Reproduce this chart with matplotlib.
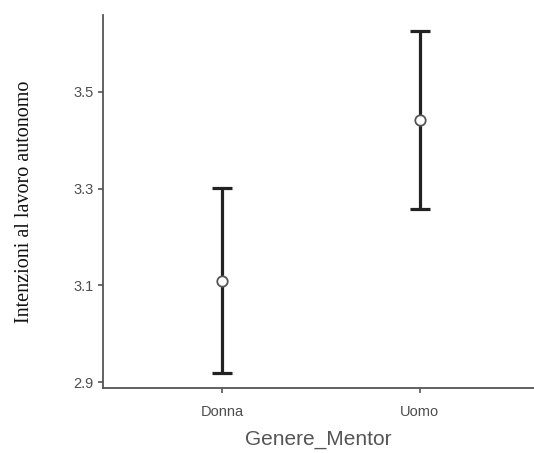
import matplotlib as mpl
import matplotlib.pyplot as plt

mpl.rcParams.update({
    "font.family": "Liberation Sans",
    "axes.spines.top": False,
    "axes.spines.right": False,
})

categories = ["Donna", "Uomo"]
means = [3.110, 3.442]
lower = [2.919, 3.257]
upper = [3.302, 3.626]
yticks = [2.9, 3.1, 3.3, 3.5]

fig = plt.figure(figsize=(5.34, 4.53), dpi=100)
ax = fig.add_axes([0.193, 0.1435, 0.807, 0.8235])

xs = list(range(len(categories)))
yerr = [[m - l for m, l in zip(means, lower)], [u - m for m, u in zip(means, upper)]]
ax.errorbar(xs, means, yerr=yerr, fmt="none", ecolor="#222222", elinewidth=2.3,
            capsize=7.5, capthick=2.3, zorder=2)
ax.plot(xs, means, "o", markersize=7.5, markerfacecolor="white",
        markeredgecolor="#555555", markeredgewidth=1.3, zorder=3)

ax.set_xlim(-0.6, 1.576)
ax.set_ylim(2.888, 3.659)
ax.set_xticks(xs)
ax.set_xticklabels(categories)
ax.set_yticks(yticks)
ax.set_yticklabels([f"{t:.1f}" for t in yticks])

for s in ("left", "bottom"):
    ax.spines[s].set_color("#555555")
    ax.spines[s].set_linewidth(1.3)
ax.tick_params(colors="#555555", labelcolor="#4d4d4d", labelsize=10.5, length=3.5, width=1.2)
ax.tick_params(axis="x", pad=9)

ax.set_xlabel("Genere_Mentor", fontsize=15, color="#555555", labelpad=8)
ax.set_ylabel("Intenzioni al lavoro autonomo", fontsize=14.5, color="#111111",
              family="Liberation Serif", labelpad=28)

fig.savefig("out.png", dpi=100)
